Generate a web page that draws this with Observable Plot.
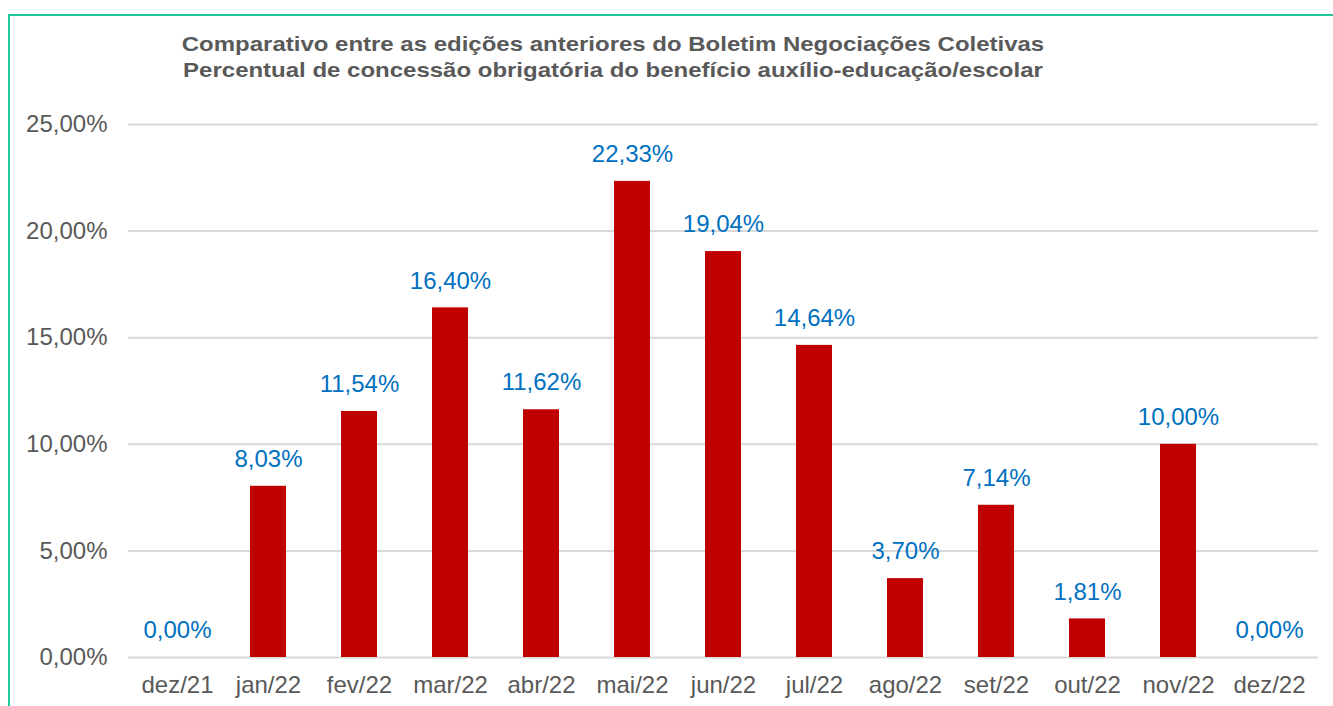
<!DOCTYPE html>
<html>
<head>
<meta charset="utf-8">
<script src="https://cdn.jsdelivr.net/npm/d3@7"></script>
<script src="https://cdn.jsdelivr.net/npm/@observablehq/plot@0.6"></script>
<style>
  html, body { margin: 0; padding: 0; background: #fff; }
  #wrap { position: relative; width: 1333px; height: 706px; overflow: hidden; background: #fff; }
  #frame { position: absolute; left: 8px; top: 14px; width: 1400px; height: 800px; border: 2px solid #1FC99A; box-sizing: border-box; }
  #title { position: absolute; left: 0; top: 31px; width: 1226px; text-align: center;
           font-family: "Liberation Sans", Arial, sans-serif; font-weight: bold; font-size: 20.5px;
           line-height: 26px; color: #595959; transform: scaleX(1.17); transform-origin: 613px 0; }
  #chart { position: absolute; left: 0; top: 0; }
</style>
</head>
<body>
<div id="wrap">
  <div id="frame"></div>
  <div id="chart"></div>
  <div id="title">Comparativo entre as edições anteriores do Boletim Negociações Coletivas<br>Percentual de concessão obrigatória do benefício auxílio-educação/escolar</div>
</div>
<script>
const months = ["dez/21","jan/22","fev/22","mar/22","abr/22","mai/22","jun/22","jul/22","ago/22","set/22","out/22","nov/22","dez/22"];
const values = [0, 8.03, 11.54, 16.40, 11.62, 22.33, 19.04, 14.64, 3.70, 7.14, 1.81, 10.00, 0];
const yTicks = [0, 5, 10, 15, 20, 25];

const data = months.map((m, i) => ({month: m, value: values[i]}));
const fmt = d => d.toFixed(2).replace(".", ",") + "%";

const chart = Plot.plot({
  width: 1333,
  height: 706,
  marginTop: 124,
  marginBottom: 49,
  marginLeft: 128,
  marginRight: 15,
  style: {fontFamily: "'Liberation Sans', Arial, sans-serif", fontSize: "24px", color: "#595959", background: "transparent", overflow: "visible"},
  x: {domain: months, paddingInner: 0.6, paddingOuter: 0.3, label: null},
  y: {domain: [0, 25], label: null},
  marks: [
    Plot.ruleY(yTicks, {stroke: "#D9D9D9", strokeWidth: 2}),
    Plot.barY(data, {x: "month", y: "value", fill: "#C00000"}),
    Plot.text(data, {x: "month", y: "value", text: d => fmt(d.value), dy: -27, fill: "#0070C0", fontSize: 24}),
    Plot.axisY({ticks: yTicks, tickSize: 0, tickPadding: 21, tickFormat: fmt, fill: "#595959", label: null}),
    Plot.axisX({tickSize: 0, tickPadding: 18, fill: "#595959", label: null})
  ]
});
document.getElementById("chart").appendChild(chart);
</script>
</body>
</html>
